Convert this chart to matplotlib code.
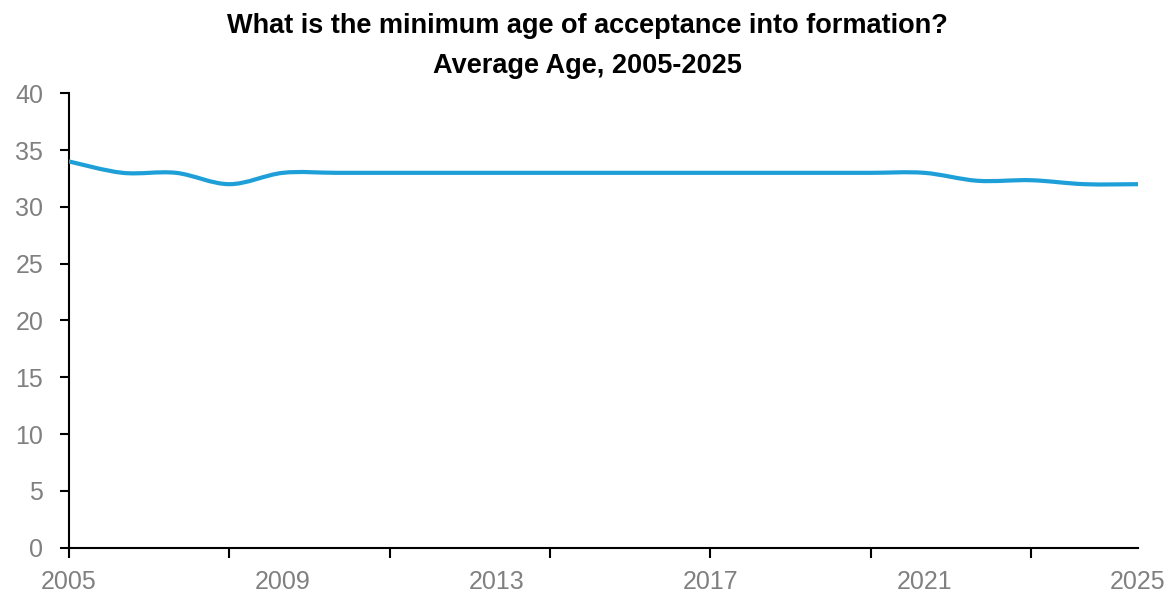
import matplotlib.pyplot as plt
from matplotlib.path import Path
from matplotlib.patches import PathPatch

years = list(range(2005, 2026))
avg_age = [34, 33, 33, 32, 33, 33, 33, 33, 33, 33, 33, 33, 33, 33, 33, 33, 33,
           32.3, 32.35, 32.0, 32.0]
label_years = [2005, 2009, 2013, 2017, 2021, 2025]
mark_years = [2005, 2008, 2011, 2014, 2017, 2020, 2023]
y_ticks = [0, 5, 10, 15, 20, 25, 30, 35, 40]

line_color = '#1E9FD8'
grey = '#808080'


def smooth_path(xs, ys):
    # excel-style smoothed line: cubic bezier segments, catmull-rom controls
    verts = [(xs[0], ys[0])]
    codes = [Path.MOVETO]
    n = len(xs)
    for i in range(n - 1):
        x0, y0 = (xs[i - 1], ys[i - 1]) if i > 0 else (xs[i], ys[i])
        x1, y1 = xs[i], ys[i]
        x2, y2 = xs[i + 1], ys[i + 1]
        x3, y3 = (xs[i + 2], ys[i + 2]) if i + 2 < n else (x2, y2)
        c1 = (x1 + (x2 - x0) / 6, y1 + (y2 - y0) / 6)
        c2 = (x2 - (x3 - x1) / 6, y2 - (y3 - y1) / 6)
        verts += [c1, c2, (x2, y2)]
        codes += [Path.CURVE4] * 3
    return Path(verts, codes)


fig = plt.figure(figsize=(11.74, 5.97), dpi=100)
ax = fig.add_axes([0.0588, 0.0826, 0.9105, 0.7611])

patch = PathPatch(smooth_path(years, avg_age), facecolor='none',
                  edgecolor=line_color, lw=3, capstyle='round', zorder=3)
ax.add_patch(patch)

ax.set_xlim(2005, 2025)
ax.set_ylim(0, 40)

ax.set_yticks(y_ticks)
ax.set_yticklabels([str(v) for v in y_ticks], fontsize=18, color=grey,
                   family='Liberation Sans')
ax.tick_params(axis='y', length=6.5, width=1.5, pad=12)

ax.xaxis.remove_overlapping_locs = False
ax.set_xticks(mark_years)
ax.set_xticklabels([''] * len(mark_years))
ax.set_xticks(label_years, minor=True)
ax.set_xticklabels([str(y) for y in label_years], minor=True, fontsize=18,
                   color=grey, family='Liberation Sans')
ax.tick_params(axis='x', which='major', length=7, width=1.5, direction='out')
ax.tick_params(axis='x', which='minor', length=0, pad=16)

for side in ['top', 'right']:
    ax.spines[side].set_visible(False)
for side in ['left', 'bottom']:
    ax.spines[side].set_linewidth(1.5)

fig.text(0.5, 0.945, 'What is the minimum age of acceptance into formation?',
         ha='center', va='baseline', fontsize=19.5, fontweight='bold',
         family='Liberation Sans')
fig.text(0.5, 0.878, 'Average Age, 2005-2025', ha='center', va='baseline',
         fontsize=19.5, fontweight='bold', family='Liberation Sans')

fig.savefig('out.png', dpi=100)
